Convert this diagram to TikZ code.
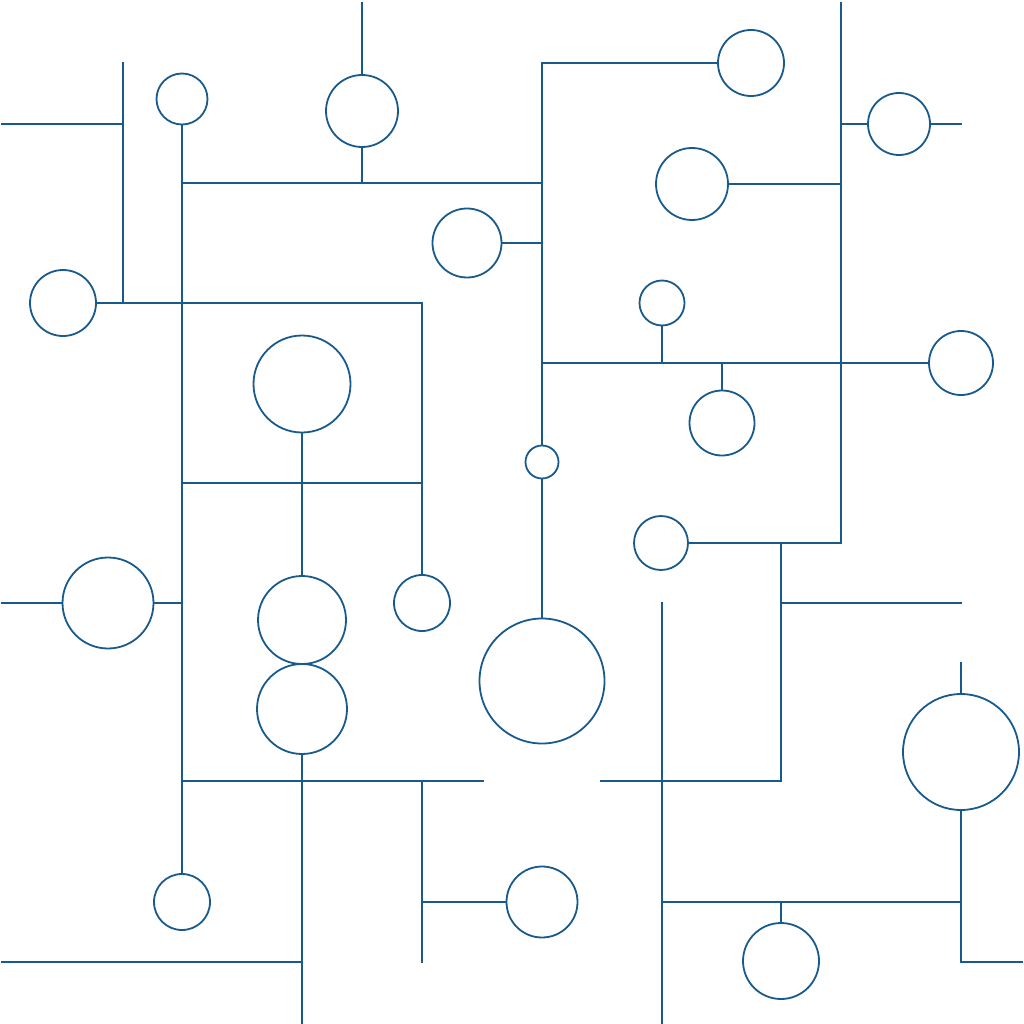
\documentclass[tikz,border=0pt]{standalone}
\usepackage{tikz}
\definecolor{wireblue}{RGB}{25,90,140}
\def\wirewidth{1.8pt}

\begin{document}
\begin{tikzpicture}[x=1pt,y=-1pt,draw=wireblue,line width=\wirewidth,line cap=rect]
	\tikzstyle{bubble}=[circle,draw=wireblue,inner sep=0pt,outer sep=0pt]
	\useasboundingbox (0,0) rectangle (1024,1024);

	% Draw the bubbles: name / x / y / diameter
	\foreach \name / \x / \y / \d in {1/182/99/51, 2/362/111/72, 3/751/63/66, 4/899/124/62,
		5/692/184/72, 6/467/243/69, 7/63/303/66, 8/662/303/45, 9/302/384/97,
		10/961/363/64, 11/302/620/88, 12/302/709/90, 13/722/423/65, 14/542/462/33,
		15/661/543/54, 16/108/603/91, 17/422/603/56, 18/542/681/125, 19/961/752/116,
		20/182/902/56, 21/542/902/71, 22/781/961/76}
	\node[bubble, minimum size=\d pt] (b-\name) at (\x,\y) {};

	% Junctions and free ends of the wires
	\foreach \name / \x / \y in {e1/2/124, j1/123/124, t1/123/63, j2/123/303, j3/182/303,
		j4/422/303, j5/182/183, j6/182/483, j7/182/603, j8/182/781, j9/362/183,
		j10/542/183, t2/362/3, j11/542/63, j12/542/243, j13/542/363, t3/841/3,
		j14/841/124, j15/841/184, j16/841/363, j17/841/543, e2/961/124, j18/422/483,
		j19/662/363, j20/722/363, j21/302/483, j22/302/781, j23/302/962, e3/302/1023,
		j24/781/543, j25/781/603, j26/781/781, e4/961/603, e5/2/603, j27/422/781,
		e6/483/781, e7/601/781, j28/662/781, t4/662/603, j29/662/902, e8/662/1023,
		j30/422/902, e9/422/962, j31/781/902, j32/961/902, t5/961/663, j33/961/962,
		e10/1022/962, e11/2/962}
	\coordinate (\name) at (\x,\y);

	% Connect the bubbles and junctions
	\foreach \from / \to in {e1/j1, t1/j1, j1/j2, b-7/j2, j2/j3, j3/j4,
		b-1/j5, j5/j3, j3/j6, j6/j7, j7/j8, j8/b-20,
		j5/j9, j9/j10, t2/b-2, b-2/j9,
		j11/j10, j10/j12, j12/j13, j13/b-14, b-14/b-18, j11/b-3,
		t3/j14, j14/j15, j15/j16, j16/j17,
		j14/b-4, b-4/e2, b-5/j15, b-6/j12,
		j4/j18, j18/b-17,
		j13/j19, j19/j20, j20/j16, j16/b-10, b-8/j19, j20/b-13,
		j6/j21, j21/j18, b-9/j21, j21/b-11,
		b-12/j22, j22/j23, j23/e3,
		b-15/j24, j24/j17, j24/j25, j25/j26, j25/e4,
		e5/b-16, b-16/j7,
		j8/j22, j22/j27, j27/e6, e7/j28, j28/j26,
		t4/j28, j28/j29, j29/e8,
		j27/j30, j30/e9, j30/b-21,
		j29/j31, j31/j32, j31/b-22,
		t5/b-19, b-19/j32, j32/j33, j33/e10, e11/j23}
	\draw (\from) -- (\to);

\end{tikzpicture}
\end{document}
